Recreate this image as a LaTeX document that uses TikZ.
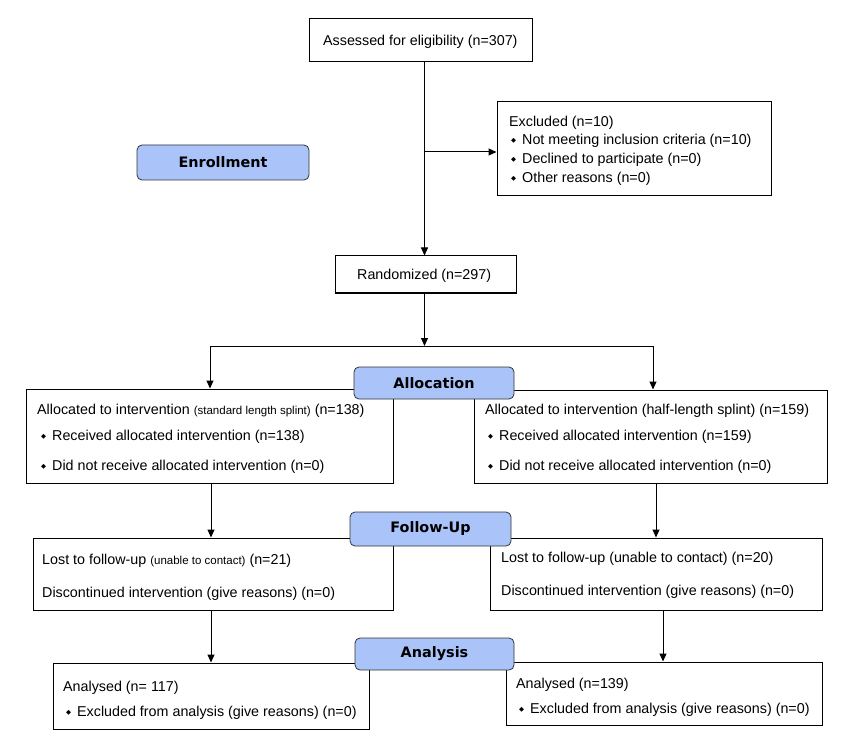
\documentclass[tikz,border=0pt]{standalone}
\usepackage{fontspec}
\setmainfont{Liberation Sans}
\newfontfamily\dejavu{DejaVu Sans}
\usetikzlibrary{arrows.meta}
\definecolor{labblue}{RGB}{170,196,250}
\newcommand{\mainsz}{\fontsize{14.3}{17}\selectfont}
\newcommand{\smallsz}{\fontsize{11.5}{13}\selectfont}
\newcommand{\bul}{\makebox[11pt][l]{\raisebox{2pt}{\dejavu\fontsize{6.5}{7}\selectfont ◆}}}
\tikzset{
  box/.style={draw=black, line width=1pt, fill=white, inner sep=0pt},
  lab/.style={draw=black!80, line width=0.8pt, fill=labblue, rounded corners=5pt, inner sep=0pt,
    font=\dejavu\bfseries\fontsize{14.4}{17}\selectfont},
  txt/.style={anchor=base west, inner sep=0pt, font=\mainsz},
  arr/.style={line width=1pt, -{Triangle[length=8pt,width=7pt]}},
  ln/.style={line width=1pt},
}
\begin{document}
\begin{tikzpicture}[x=1pt,y=-1pt]
\useasboundingbox (0,0) rectangle (851,743);
\fill[white] (0,0) rectangle (851,743);

% boxes
\node[box, minimum width=223pt, minimum height=43pt] (assess) at (420.5,40.5) {};
\node[box, minimum width=274pt, minimum height=94pt] (excl) at (634,149) {};
\node[box, minimum width=181pt, minimum height=37pt] (random) at (425.5,274.5) {};
\node[box, minimum width=367pt, minimum height=94pt] (allocL) at (209.5,436) {};
\node[box, minimum width=353pt, minimum height=93pt] (allocR) at (650.5,436.5) {};
\node[box, minimum width=360pt, minimum height=72pt] (fuL) at (213,574) {};
\node[box, minimum width=332pt, minimum height=72pt] (fuR) at (656,574) {};
\node[box, minimum width=316pt, minimum height=66pt] (anL) at (211,696) {};
\node[box, minimum width=316pt, minimum height=63pt] (anR) at (664,693.5) {};

% coordinates for connector x positions
\coordinate (xMain) at (424.5,0);
\coordinate (jExcl) at (424.5,152);
\coordinate (sL) at (210,346);
\coordinate (sR) at (653,346);
\coordinate (xL2) at (211,0);
\coordinate (xR2) at (656,0);
\coordinate (xL3) at (211,0);
\coordinate (xR3) at (663,0);

% connectors
\draw[arr] (assess.south -| xMain) -- (random.north -| xMain);
\draw[arr] (jExcl) -- (jExcl -| excl.west);
\draw[arr] (random.south -| xMain) -- (xMain |- sL);
\draw[ln] (sL) -- (sR);
\draw[arr] (sL) -- (sL |- allocL.north);
\draw[arr] (sR) -- (sR |- allocR.north);
\draw[arr] (allocL.south -| xL2) -- (fuL.north -| xL2);
\draw[arr] (allocR.south -| xR2) -- (fuR.north -| xR2);
\draw[arr] (fuL.south -| xL3) -- (anL.north -| xL3);
\draw[arr] (fuR.south -| xR3) -- (anR.north -| xR3);

% texts
\node[txt] (tAssess) at (323,45.5) {Assessed for eligibility (n=307)};
\node[txt] (tExcl0) at (509,126.5) {Excluded (n=10)};
\node[txt] (tExcl1) at (511,145) {\bul Not meeting inclusion criteria (n=10)};
\node[txt] (tExcl2) at (511,164) {\bul Declined to participate (n=0)};
\node[txt] (tExcl3) at (511,183) {\bul Other reasons (n=0)};
\node[txt] (tRand) at (357,279.5) {Randomized (n=297)};

\node[txt] (tAL0) at (37,414) {Allocated to intervention {\smallsz(standard length splint)} (n=138)};
\node[txt] (tAL1) at (41,440) {\bul Received allocated intervention (n=138)};
\node[txt] (tAL2) at (41,470) {\bul Did not receive allocated intervention (n=0)};

\node[txt] (tAR0) at (485,414) {Allocated to intervention (half-length splint) (n=159)};
\node[txt] (tAR1) at (488,440) {\bul Received allocated intervention (n=159)};
\node[txt] (tAR2) at (488,470) {\bul Did not receive allocated intervention (n=0)};

\node[txt] (tFL0) at (42,564) {Lost to follow-up {\smallsz(unable to contact)} (n=21)};
\node[txt] (tFL1) at (42,597) {Discontinued intervention (give reasons) (n=0)};
\node[txt] (tFR0) at (501,562) {Lost to follow-up (unable to contact) (n=20)};
\node[txt] (tFR1) at (501,595) {Discontinued intervention (give reasons) (n=0)};

\node[txt] (tNL0) at (63,691) {Analysed (n= 117)};
\node[txt] (tNL1) at (66,716) {\bul Excluded from analysis (give reasons) (n=0)};
\node[txt] (tNR0) at (516,688) {Analysed (n=139)};
\node[txt] (tNR1) at (519,713) {\bul Excluded from analysis (give reasons) (n=0)};

% stage labels
\node[lab, minimum width=172pt, minimum height=35pt] (lEnroll) at (223,162.5) {Enrollment};
\node[lab, minimum width=160pt, minimum height=32pt] (lAlloc) at (434,383) {Allocation};
\node[lab, minimum width=161pt, minimum height=34pt] (lFollow) at (430.5,529) {Follow-Up};
\node[lab, minimum width=159pt, minimum height=32pt] (lAnal) at (434.5,654) {Analysis};
\end{tikzpicture}
\end{document}
